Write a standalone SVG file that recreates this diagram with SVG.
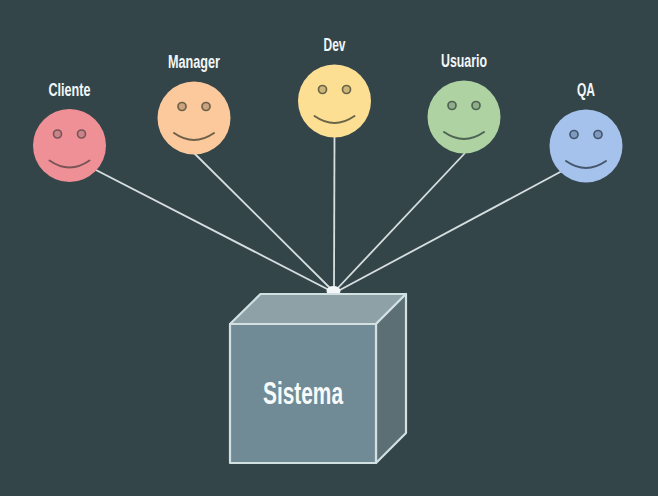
<svg xmlns="http://www.w3.org/2000/svg" width="658" height="496" viewBox="0 0 658 496">
<defs>
<style>
.head{stroke:none}
.eye{stroke-width:1.7}
.mouth{fill:none;stroke-width:2;stroke-linecap:round}
.label{font-family:"Liberation Sans",Arial,sans-serif;font-size:18px;font-weight:700;fill:#f2f6f7;text-anchor:middle}
.edge{stroke:#d6dfe0;stroke-width:1.8;fill:none}
.box{stroke:#d3e0e2;stroke-width:2.2;stroke-linejoin:round}
</style>
<g id="face">
<circle class="eye" cx="-12" cy="-11.5" r="4"/>
<circle class="eye" cx="12" cy="-11.5" r="4"/>
<path class="mouth" d="M-20 15Q0 29 20 15"/>
</g>
</defs>
<rect width="658" height="496" fill="#34454a"/>
<g id="connectors">
<line class="edge" x1="96" y1="170" x2="331" y2="291"/>
<line class="edge" x1="194" y1="153" x2="332" y2="290"/>
<line class="edge" x1="334.500" y1="137" x2="334" y2="290"/>
<line class="edge" x1="465" y1="153" x2="336" y2="290"/>
<line class="edge" x1="562" y1="171" x2="338" y2="291"/>
<ellipse cx="333.500" cy="291" rx="7" ry="5" fill="#f4f7f7"/>
</g>
<g id="sistema">
<path class="box" d="M230 324L260.500 294H406L376 324Z" fill="#8da1a7"/>
<path class="box" d="M376 324L406 294V433L376 463Z" fill="#5c6f75"/>
<rect class="box" x="230" y="324" width="146" height="139" fill="#708b95"/>
<text x="303" y="404" textLength="80" lengthAdjust="spacingAndGlyphs" font-family="'Liberation Sans',Arial,sans-serif" font-size="31" font-weight="700" fill="#f7fafa" text-anchor="middle">Sistema</text>
</g>
<g id="cliente" transform="translate(69.500 145.500)">
<circle class="head" r="36.500" fill="#ef9096"/>
<use href="#face" fill="#c8848a" stroke="#7a5557"/>
<text class="label" y="-50" textLength="42" lengthAdjust="spacingAndGlyphs">Cliente</text>
</g>
<g id="manager" transform="translate(194 118)">
<circle class="head" r="36.500" fill="#fbc99b"/>
<use href="#face" fill="#c9a47f" stroke="#6f6048"/>
<text class="label" y="-50" textLength="52" lengthAdjust="spacingAndGlyphs">Manager</text>
</g>
<g id="dev" transform="translate(334.500 101)">
<circle class="head" r="36.500" fill="#fddf94"/>
<use href="#face" fill="#cdb67a" stroke="#6b6548"/>
<text class="label" y="-50" textLength="22" lengthAdjust="spacingAndGlyphs">Dev</text>
</g>
<g id="usuario" transform="translate(464 117)">
<circle class="head" r="36.500" fill="#aed2a1"/>
<use href="#face" fill="#8fae88" stroke="#4f6354"/>
<text class="label" y="-50" textLength="46" lengthAdjust="spacingAndGlyphs">Usuario</text>
</g>
<g id="qa" transform="translate(586 146)">
<circle class="head" r="36.500" fill="#a4c2ec"/>
<use href="#face" fill="#7f9ac0" stroke="#45586e"/>
<text class="label" y="-50.500" textLength="18" lengthAdjust="spacingAndGlyphs">QA</text>
</g>
</svg>
